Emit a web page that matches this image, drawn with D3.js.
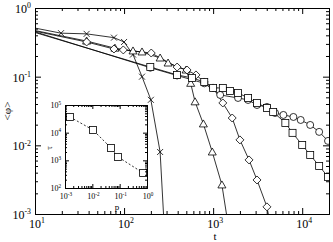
<!DOCTYPE html>
<html>
<head>
<meta charset="utf-8">
<script src="https://cdn.jsdelivr.net/npm/d3@7"></script>
<style>
  body { margin: 0; background: #fff; }
  svg { display: block; font-family: "Liberation Serif", "DejaVu Serif", serif; }
  .domain { stroke: #000; }
  .tick line { stroke: #000; }
</style>
</head>
<body>
<script>
// main panel: <phi> vs t, one array of [t, phi] per symbol
const crossData = [[10, 0.51], [19.6, 0.43], [38, 0.42], [77, 0.37], [100, 0.32], [126, 0.21],
  [159, 0.10], [200, 0.046], [254, 0.008], [280, 0.0008]];
const triData = [[10, 0.47], [38, 0.33], [79, 0.26], [126, 0.237], [159, 0.229], [254, 0.187],
  [312, 0.158], [497, 0.125], [560, 0.08], [627, 0.043], [777, 0.0205], [978, 0.008],
  [1255, 0.00265], [1450, 0.0008]];
const diaData = [[10, 0.46], [38, 0.32], [77, 0.253], [98, 0.245], [202, 0.221], [394, 0.138],
  [510, 0.125], [642, 0.106], [795, 0.0837], [1000, 0.0685], [1285, 0.0414], [1637, 0.025],
  [2000, 0.012], [2530, 0.00613], [3110, 0.00313], [4020, 0.00127], [4300, 0.0008]];
const circData = [[10, 0.45], [197, 0.135], [394, 0.104], [795, 0.08], [1200, 0.0542],
  [1904, 0.049], [2470, 0.0458], [3110, 0.0387], [4020, 0.0362], [4960, 0.0296],
  [6150, 0.0277], [7970, 0.0259], [9620, 0.0234], [12300, 0.0198], [15500, 0.0157], [19500, 0.0116]];
const sqData = [[10, 0.44], [197, 0.138], [394, 0.106], [580, 0.0958], [795, 0.0837],
  [1000, 0.0685], [1285, 0.0685], [1550, 0.0619], [1904, 0.058], [2470, 0.049], [3110, 0.0414],
  [4020, 0.035], [4720, 0.0306], [6470, 0.0212], [7790, 0.0152], [10000, 0.0101],
  [12300, 0.00725], [15500, 0.00501], [19500, 0.00347]];

// inset: tau vs p
const insetP = [0.00152, 0.0106, 0.0484, 0.087, 0.72];
const insetTau = [36900, 12500, 2800, 1330, 350];

const W = 333, H = 242;
const svg = d3.select("body").append("svg").attr("width", W).attr("height", H);

const x = d3.scaleLog().domain([10, 2e4]).range([35, 329]);
const y = d3.scaleLog().domain([1e-3, 1]).range([214, 8]);

const isMajor = v => Math.abs(Math.log10(v) - Math.round(Math.log10(v))) < 1e-6;

function logTicks(scale) {
  const [a, b] = scale.domain();
  const out = [];
  for (let e = Math.floor(Math.log10(a)); e <= Math.ceil(Math.log10(b)); e++) {
    for (let m = 1; m < 10; m++) {
      const v = m * Math.pow(10, e);
      if (v >= a * 0.9999 && v <= b * 1.0001) out.push(v);
    }
  }
  return out;
}

// draw a framed log-log box with inward ticks on all four sides
function frame(g, sx, sy, big, small) {
  const [x0, x1] = sx.range(), [y0, y1] = sy.range();
  const xt = logTicks(sx), yt = logTicks(sy);
  const sides = [
    [d3.axisBottom(sx), `translate(0,${y0})`, xt],
    [d3.axisTop(sx), `translate(0,${y1})`, xt],
    [d3.axisLeft(sy), `translate(${x0},0)`, yt],
    [d3.axisRight(sy), `translate(${x1},0)`, yt]
  ];
  sides.forEach(([ax, tr, ticks]) => {
    g.append("g").attr("transform", tr)
      .call(ax.tickValues(ticks.filter(isMajor)).tickSizeInner(-big).tickSizeOuter(0).tickFormat(""));
    g.append("g").attr("transform", tr)
      .call(ax.tickValues(ticks.filter(v => !isMajor(v))).tickSizeInner(-small).tickSizeOuter(0).tickFormat(""));
  });
}

function powLabel(g, px, py, e, size, anchor) {
  const t = g.append("text").attr("x", px).attr("y", py)
    .attr("text-anchor", anchor).attr("font-size", size).attr("fill", "#000");
  t.append("tspan").text("10");
  t.append("tspan").attr("dy", -size * 0.4).attr("font-size", size * 0.65).text(e);
}

// ---------- main panel ----------
const main = svg.append("g");

svg.append("clipPath").attr("id", "mclip")
  .append("rect").attr("x", 35).attr("y", 8).attr("width", 294).attr("height", 206);

const line = d3.line().x(d => x(d[0])).y(d => y(d[1]));
const curves = main.append("g").attr("clip-path", "url(#mclip)");
[crossData, triData, diaData, circData, sqData].forEach(s => {
  curves.append("path").attr("d", line(s)).attr("fill", "none")
    .attr("stroke", "#000").attr("stroke-width", 0.8);
});

function marker(g, kind, px, py) {
  let m;
  if (kind === "x") {
    m = g.append("path").attr("d", `M${px - 3},${py - 3}L${px + 3},${py + 3}M${px - 3},${py + 3}L${px + 3},${py - 3}`)
      .attr("fill", "none");
  } else if (kind === "tri") {
    m = g.append("path").attr("d", `M${px},${py - 4}L${px + 4},${py + 3}L${px - 4},${py + 3}Z`).attr("fill", "#fff");
  } else if (kind === "dia") {
    m = g.append("path").attr("d", `M${px},${py - 4}L${px + 4},${py}L${px},${py + 4}L${px - 4},${py}Z`).attr("fill", "#fff");
  } else if (kind === "circ") {
    m = g.append("circle").attr("cx", px).attr("cy", py).attr("r", 3.5).attr("fill", "#fff");
  } else {
    m = g.append("rect").attr("x", px - 3.5).attr("y", py - 3.5).attr("width", 7).attr("height", 7).attr("fill", "#fff");
  }
  m.attr("stroke", "#000").attr("stroke-width", 0.8);
}

const inRange = d => d[0] > 10 && d[1] > 1e-3;
const marks = curves.append("g");
[[crossData, "x"], [triData, "tri"], [diaData, "dia"], [circData, "circ"], [sqData, "sq"]]
  .forEach(([s, k]) => s.filter(inRange).forEach(d => marker(marks, k, x(d[0]), y(d[1]))));

frame(main, x, y, 6, 3);

[1, 2, 3, 4].forEach(e => powLabel(main, x(Math.pow(10, e)) + 2, 228, e, 12, "middle"));
[0, -1, -2, -3].forEach(e => powLabel(main, 31, y(Math.pow(10, e)) + 5, e, 12, "end"));
main.append("text").attr("x", 215).attr("y", 240).attr("text-anchor", "middle")
  .attr("font-size", 11).text("t");
main.append("text").attr("transform", "translate(11,111) rotate(-90)")
  .attr("text-anchor", "middle").attr("font-size", 11).text("<φ>");

// ---------- inset ----------
const ix = d3.scaleLog().domain([1e-3, 1]).range([65, 147]);
const iy = d3.scaleLog().domain([1e2, 1e5]).range([188, 105]);
const inset = svg.append("g");
inset.append("rect").attr("x", 65).attr("y", 105).attr("width", 82).attr("height", 83)
  .attr("fill", "#fff");

const insetPts = insetP.map((p, i) => [p, insetTau[i]]);
inset.append("path")
  .attr("d", d3.line().x(d => ix(d[0])).y(d => iy(d[1]))(insetPts))
  .attr("fill", "none").attr("stroke", "#000").attr("stroke-width", 0.8)
  .attr("stroke-dasharray", "2,2");
insetPts.forEach(d => marker(inset, "sq", ix(d[0]), iy(d[1])));

frame(inset, ix, iy, 4, 2);

[-3, -2, -1, 0].forEach(e => powLabel(inset, ix(Math.pow(10, e)) + 1, 199, e, 8, "middle"));
[5, 4, 3, 2].forEach(e => powLabel(inset, 61, iy(Math.pow(10, e)) + 3, e, 8, "end"));
inset.append("text").attr("x", 117).attr("y", 210).attr("text-anchor", "middle")
  .attr("font-size", 9).text("p");
inset.append("text").attr("transform", "translate(52,148) rotate(-90)")
  .attr("text-anchor", "middle").attr("font-size", 9).text("τ");
</script>
</body>
</html>
